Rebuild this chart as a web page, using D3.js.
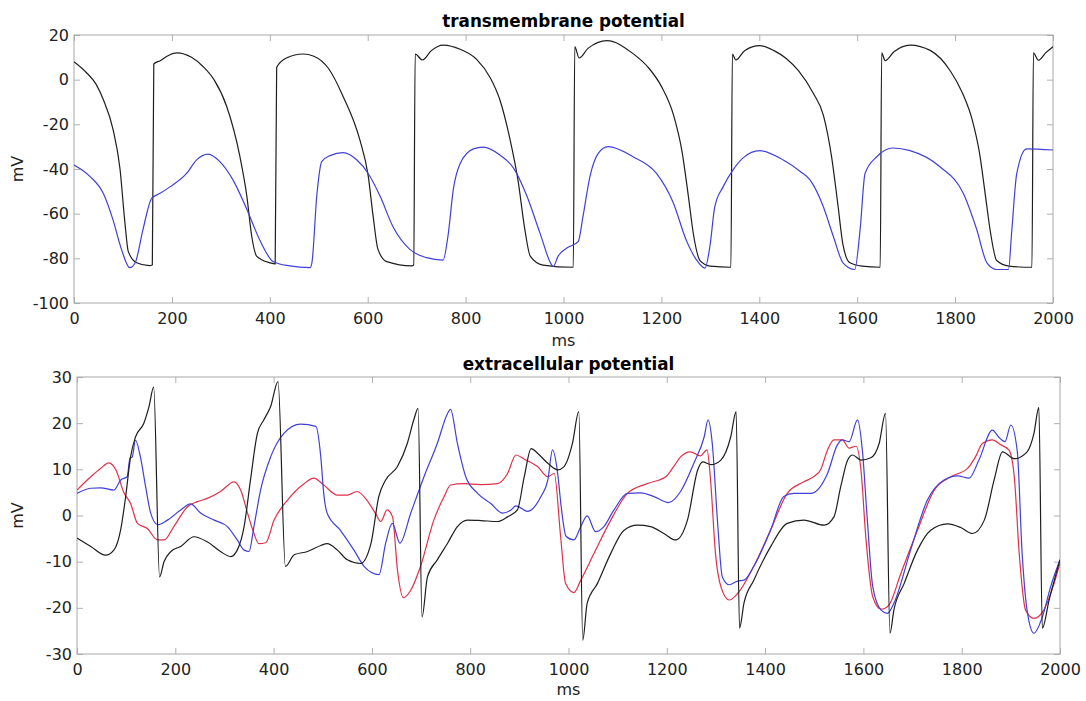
<!DOCTYPE html>
<html><head><meta charset="utf-8">
<script src="https://cdn.jsdelivr.net/npm/d3@7"></script>
<style>
html,body{margin:0;padding:0;background:#fff;}
svg{display:block;font-family:"DejaVu Sans",sans-serif;}
</style></head>
<body><svg id="c" width="1086" height="701"></svg>
<script>
// ---------- data ----------
const xTicks = [0,200,400,600,800,1000,1200,1400,1600,1800,2000];
const tmTicks = [20,0,-20,-40,-60,-80,-100];
const ecTicks = [30,20,10,0,-10,-20,-30];
const titles = ["transmembrane potential","extracellular potential"];

// transmembrane potential [ms, mV]
const tmBlack = [[0,8],[26,3],[45,-2],[60,-9],[80,-22.5],[94,-40],[104,-64],[111,-77],[128,-82],[154,-83.3],[160,-83],[163,7],[176,8.5],[190,10.5],[210,12],[240,10],[264,5.8],[286,0],[312,-12],[339,-34.5],[353,-52],[363,-70],[373,-79],[400,-82],[411,-82.5],[414,5.5],[434,9.7],[468,11.5],[490,10.5],[520,5],[550,-7.6],[584,-27],[601,-43],[611,-61],[621,-76],[639,-81.5],[690,-83.4],[694,-83],[697,11.5],[712,8.8],[730,13],[754,15.5],[790,13.5],[823,9],[850,1],[870,-9],[891,-27],[907,-45],[921,-67],[932,-79],[958,-83],[1020,-84],[1023,14.8],[1032,9.7],[1050,14],[1089,17.5],[1140,12],[1175,5],[1200,-3],[1225,-16],[1242,-32],[1255,-52],[1266,-70],[1279,-81],[1300,-83.5],[1342,-84],[1345,11.5],[1352,8.8],[1370,13],[1401,15.2],[1430,13],[1455,9.5],[1480,4],[1510,-6],[1531,-16],[1548,-35],[1560,-55],[1571,-74],[1585,-82],[1610,-83.5],[1647,-84],[1650,12],[1657,8.5],[1675,12.5],[1708,15.5],[1750,13],[1790,4],[1815,-6],[1835,-18],[1850,-33],[1862,-52],[1872,-68],[1885,-81],[1910,-83.5],[1957,-84],[1960,12],[1970,8.7],[1985,12],[2000,14.8]];
const tmBlue = [[0,-38.2],[33,-43.4],[60,-51],[80,-63],[97,-76],[114,-84.2],[125,-82],[141,-67],[159,-53],[175,-51],[196,-48],[230,-42],[250,-36],[274,-33.3],[298,-36.7],[325,-45],[353,-58],[380,-72],[407,-81.5],[441,-83.4],[482,-84.2],[486,-82],[496,-52],[506,-36.7],[523,-34],[550,-32.7],[578,-36],[601,-42],[625,-52],[652,-66],[686,-76],[720,-79.7],[754,-80.8],[764,-70],[775,-49],[789,-37.5],[816,-31],[836,-30.2],[870,-33.7],[898,-39.6],[925,-52],[952,-68.7],[976,-83],[979,-83.7],[989,-79],[1006,-75.5],[1030,-72.5],[1040,-61],[1054,-43.4],[1071,-33],[1091,-30],[1142,-34.5],[1190,-42],[1224,-55],[1251,-72],[1272,-80.8],[1289,-84.4],[1299,-74.8],[1309,-57],[1326,-48],[1346,-40.5],[1367,-35],[1401,-31.8],[1449,-36],[1483,-41],[1504,-45],[1531,-57],[1551,-70],[1571,-82],[1595,-85],[1606,-67],[1616,-42],[1640,-34.5],[1673,-30.6],[1708,-31.8],[1769,-39],[1817,-51],[1844,-67],[1865,-82],[1885,-85],[1909,-85],[1916,-67],[1926,-42],[1946,-31],[2000,-31.5]];

// extracellular potential [ms, mV]
const ecBlack = [[0,-4.9],[28,-6.7],[58,-8.6],[75,-7.5],[89,-3],[99,4.1],[109,12.7],[119,17],[136,20],[146.5,23.6],[156,27.8],[168,-13.3],[177,-10],[191,-7.8],[211,-6.7],[238,-4.6],[265,-5.7],[292,-7.8],[313,-8.9],[326,-7.5],[340,-2.4],[353,7.7],[367,17.8],[380,20.7],[394,23.6],[409,29],[424,-11],[442,-8.5],[469,-7.8],[496,-6.5],[509,-6.1],[530,-7.5],[550,-9.6],[577,-10.4],[598,-6.1],[614,4.1],[628,7.7],[652,10.6],[672,15.6],[686,21],[694,23.2],[702,-22],[713,-13.3],[733,-9.6],[754,-6],[774,-2.4],[794,-1],[822,-1.1],[856,-1.3],[876,-0.3],[896,1.2],[910,8.4],[924,14.5],[937,13.5],[958,11.3],[978,9.9],[991,10.6],[1008,15.6],[1021,22.5],[1029,-27],[1038,-19],[1059,-14.7],[1086,-8.2],[1113,-3.2],[1140,-2.1],[1167,-2.4],[1194,-3.9],[1218,-5.3],[1242,-1],[1263,9.9],[1273,11.6],[1290,11],[1310,12],[1330,17],[1341,22.5],[1348,-24.4],[1357,-19],[1377,-14],[1411,-6.8],[1445,-1.7],[1479,-1],[1520,-2.1],[1540,-0.3],[1554,6.3],[1568,12],[1578,13.1],[1595,12],[1615,12.5],[1632,15.6],[1645,22.1],[1654,-25.5],[1662,-20.5],[1683,-14.7],[1710,-7.5],[1737,-3.2],[1771,-1.8],[1798,-2.6],[1822,-3.9],[1846,-1],[1866,7.7],[1883,13.8],[1907,12.3],[1933,13.8],[1947,17.8],[1957,23.4],[1964,-24.4],[1978,-18.2],[2000,-9.6]];
const ecBlue = [[0,4.8],[28,5.9],[48,6],[75,5.5],[89,7.7],[102,8.4],[108,12.5],[112,12.6],[119,16.3],[129,12.7],[139.5,6.3],[150,0.5],[164,-2],[184,-1],[211,1.2],[231,2.5],[252,0.5],[279,-1],[306,-2.4],[326,-5.3],[340,-7.5],[350,-7.8],[360,-2.4],[373.5,5.5],[394,12.7],[421,17.8],[455,19.8],[486,19.3],[496,12.7],[502,4.8],[509,0.5],[536,-3.2],[563.5,-7.5],[584,-11],[614.5,-12.8],[628,-6],[641.6,-1.7],[657,-6],[679,0.5],[706,8.4],[733,15.6],[753.5,22],[760,23],[774,15.6],[791,8.4],[815,4.8],[842,2.6],[866,0.5],[883,1.2],[893,2.1],[916.5,0.9],[944,4.1],[958,7.7],[967.5,14.2],[978,9.1],[985,2],[995,-4.5],[1011,-5.3],[1025,-2.4],[1038,-0.1],[1055,-3.5],[1072,-2.4],[1092.5,1.2],[1120,4.8],[1147,4.9],[1174,4.1],[1204,2.8],[1228,5.2],[1255,11.3],[1276,17],[1284,20.7],[1292.5,15.6],[1303,-1],[1313,-13.3],[1327,-15],[1344,-14.2],[1357,-14],[1377,-11],[1411,-3.2],[1438,4.1],[1458,4.8],[1493,4.8],[1527,9.1],[1547,15.3],[1557,16.4],[1571,16],[1588,20.7],[1598,14],[1608,-1],[1619,-15.4],[1636,-20.5],[1649,-21.2],[1662,-19],[1696,-7.5],[1730,3.3],[1764,7.7],[1791.5,8.6],[1815,8.1],[1835,12],[1862.5,18.5],[1876,16.9],[1888,16],[1900,19.6],[1913,14],[1923,-8.2],[1933,-20.5],[1947,-25.5],[1964,-22],[1981,-15.4],[2000,-9.6]];
const ecRed = [[0,5.5],[28,8.4],[48,10.2],[65,11.4],[79,9.9],[96,4.8],[109,2.6],[123,-1.7],[143,-2.8],[164,-5.3],[177,-5.3],[197,-2.4],[225,1.9],[245,3],[265,3.7],[292,5.2],[319.5,7.3],[333,5.5],[347,0.5],[360,-3.9],[370,-6.1],[384,-5.9],[401,-1],[428,3.3],[462,6.9],[482,8.1],[502,6.6],[530,4.4],[550,4.4],[570,5.2],[590,3.3],[607,0.5],[618,-1.3],[631,1.2],[642,-0.3],[652,-11.8],[664,-17.8],[679,-16.2],[699,-11],[726,-1],[747,4.1],[760,6.6],[787,6.9],[822,6.7],[856,6.9],[876,9.1],[893,13.1],[910,12.2],[937,10.6],[958,8.4],[971,9.1],[984,-4.6],[994,-14.7],[1011,-16.7],[1025,-14],[1052,-8.2],[1086,-1],[1120,4.8],[1160,6.9],[1198,8.4],[1214,10.6],[1228,12.7],[1248,13.8],[1268,12.9],[1282,14.2],[1289,7.7],[1299,-8.2],[1310,-15.4],[1327,-18.3],[1344,-16.9],[1377,-11],[1411,-3.2],[1445,4.8],[1479,7.3],[1500,8.5],[1513,9.9],[1527,14.2],[1540,16.4],[1557,16.4],[1571,14.6],[1585,15],[1595,9.9],[1605,-4.8],[1619,-17.6],[1636,-20.3],[1652,-19.4],[1676,-12.6],[1710,-3.2],[1744,5.5],[1778,8.4],[1812,10.2],[1828,12.7],[1842,15.6],[1862,16.4],[1880,15.3],[1896,14.2],[1907,8.4],[1917,-8.2],[1930,-20.5],[1947,-22.3],[1967,-20.5],[1988,-14.7],[2000,-10.3]];

// ---------- drawing ----------
const svg = d3.select("#c");
svg.append("rect").attr("width",1086).attr("height",701).attr("fill","#fff");

const panels = [
  {title:titles[0], box:{l:74,r:1053,t:35,b:303}, yDom:[-100,20], yTicks:tmTicks,
   series:[{d:tmBlack,c:"#1e1e1e"},{d:tmBlue,c:"#4040d8"}], titleY:27, xlabY:346},
  {title:titles[1], box:{l:77,r:1060,t:377,b:654}, yDom:[-30,30], yTicks:ecTicks,
   series:[{d:ecRed,c:"#e0304a"},{d:ecBlue,c:"#4040d8"},{d:ecBlack,c:"#1e1e1e"}], titleY:370, xlabY:695}
];
const fmt = d => String(d);

panels.forEach(p=>{
  const b=p.box;
  const x=d3.scaleLinear().domain([0,2000]).range([b.l,b.r]);
  const y=d3.scaleLinear().domain(p.yDom).range([b.b,b.t]);
  const g=svg.append("g");
  const tickCol="#b0b0b0";
  g.append("g").attr("transform",`translate(0,${b.b})`)
    .call(d3.axisBottom(x).tickValues(xTicks).tickSize(-6).tickFormat(fmt))
    .call(a=>{a.select(".domain").remove();a.selectAll("line").attr("stroke",tickCol);
      a.selectAll("text").attr("fill","#222").attr("font-size",16).attr("font-family","DejaVu Sans").attr("dy","1.1em");});
  g.append("g").attr("transform",`translate(0,${b.t})`)
    .call(d3.axisTop(x).tickValues(xTicks).tickSize(-6).tickFormat(""))
    .call(a=>{a.select(".domain").remove();a.selectAll("line").attr("stroke",tickCol);});
  g.append("g").attr("transform",`translate(${b.l},0)`)
    .call(d3.axisLeft(y).tickValues(p.yTicks).tickSize(-6).tickFormat(fmt))
    .call(a=>{a.select(".domain").remove();a.selectAll("line").attr("stroke",tickCol);
      a.selectAll("text").attr("fill","#222").attr("font-size",16).attr("font-family","DejaVu Sans").attr("x",-5);});
  g.append("g").attr("transform",`translate(${b.r},0)`)
    .call(d3.axisRight(y).tickValues(p.yTicks).tickSize(-6).tickFormat(""))
    .call(a=>{a.select(".domain").remove();a.selectAll("line").attr("stroke",tickCol);});
  g.append("rect").attr("x",b.l).attr("y",b.t).attr("width",b.r-b.l).attr("height",b.b-b.t)
    .attr("fill","none").attr("stroke","#a8a8a8").attr("stroke-width",1);

  const line=d3.line().x(d=>x(d[0])).y(d=>y(d[1])).curve(d3.curveMonotoneX);
  const clipId="clip"+b.t;
  svg.append("clipPath").attr("id",clipId).append("rect")
    .attr("x",b.l).attr("y",b.t-2).attr("width",b.r-b.l).attr("height",b.b-b.t+4);
  const lg=svg.append("g").attr("clip-path",`url(#${clipId})`);
  p.series.forEach(s=>{
    lg.append("path").attr("d",line(s.d)).attr("fill","none")
      .attr("stroke",s.c).attr("stroke-width",1.2).attr("stroke-linejoin","round");
  });

  svg.append("text").attr("x",(b.l+b.r)/2).attr("y",p.titleY).attr("text-anchor","middle")
    .attr("font-size",16.8).attr("font-weight","bold").attr("fill","#000").text(p.title);
  svg.append("text").attr("x",(b.l+b.r)/2).attr("y",p.xlabY).attr("text-anchor","middle")
    .attr("font-size",16).attr("fill","#222").text("ms");
  svg.append("text").attr("transform",`translate(23,${(b.t+b.b)/2}) rotate(-90)`)
    .attr("text-anchor","middle").attr("font-size",16).attr("fill","#222").text("mV");
});
</script></body></html>
